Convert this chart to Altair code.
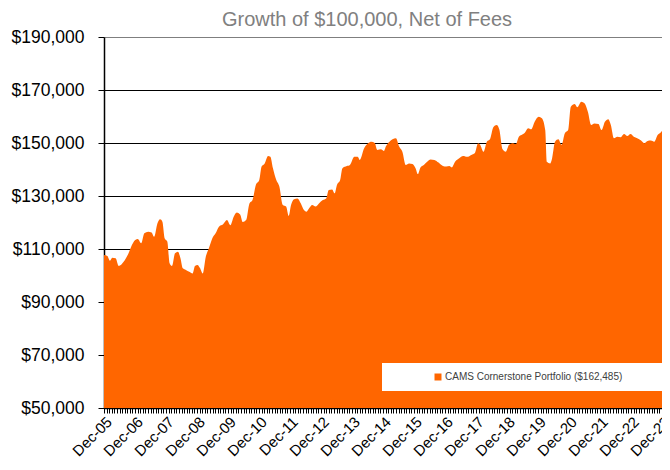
import altair as alt
import pandas as pd

# ---- data ----
# months elapsed since Dec-2005
months = [0.0, 1.3, 2.3, 3.2, 4.5, 5.7, 7.6, 9.5, 10.8, 12.1,
          13.1, 14.4, 15.6, 17.1, 18.4, 19.4, 20.7, 21.7, 22.6, 23.5,
          24.5, 25.4, 26.3, 27.5, 28.6, 29.6, 30.5, 31.7, 33.0, 34.3,
          35.2, 36.2, 37.2, 38.2, 39.4, 40.6, 41.9, 43.2, 44.5, 46.1,
          47.6, 48.9, 50.2, 51.4, 52.7, 53.7, 55.0, 56.3, 57.5, 58.8,
          60.1, 61.0, 62.2, 63.5, 64.4, 65.4, 66.7, 67.9, 69.2, 70.5,
          71.5, 72.4, 73.6, 74.9, 76.2, 77.4, 78.4, 79.4, 80.6, 81.9,
          83.2, 84.7, 86.0, 87.0, 88.3, 89.3, 90.2, 91.4, 92.3, 94.0,
          95.2, 96.9, 98.2, 99.0, 100.7, 102.2, 103.5, 104.8, 105.8, 107.2,
          108.3, 109.2, 110.5, 111.7, 113.0, 114.3, 115.5, 116.8, 118.1, 119.4,
          120.6, 121.5, 122.5, 123.8, 125.1, 126.4, 127.9, 129.5, 131.2, 132.5,
          133.7, 134.6, 135.9, 137.5, 139.0, 140.6, 142.2, 143.5, 144.8, 145.6,
          146.9, 148.2, 149.4, 150.7, 152.0, 153.0, 154.3, 155.5, 156.8, 158.1,
          159.4, 160.6, 161.6, 162.9, 164.2, 165.4, 166.7, 168.3, 169.5, 170.8,
          171.4, 172.7, 173.3, 174.6, 175.9, 177.1, 178.4, 179.7, 180.7, 182.2,
          183.2, 184.8, 186.0, 187.3, 188.6, 189.8, 191.4, 192.6, 193.9, 195.2,
          196.2, 197.4, 198.7, 200.0, 201.3, 202.6, 203.8, 205.1, 206.4, 207.9,
          209.1, 210.4, 211.7, 213.0, 214.3, 215.4, 216.0]

# portfolio value, thousands of dollars
values_thousands = [107.7, 107.4, 105.6, 106.7, 106.5, 103.6, 105.2, 108.4, 111.5, 113.4,
                    113.8, 112.2, 115.9, 116.5, 116.2, 114.6, 119.7, 121.2, 120.3, 114.0,
                    112.8, 104.6, 103.6, 108.4, 109.0, 106.5, 102.7, 102.1, 101.4, 100.8,
                    103.6, 104.0, 102.7, 100.8, 107.1, 110.3, 114.0, 115.9, 118.4, 119.3,
                    120.9, 119.0, 122.2, 123.8, 123.0, 120.2, 120.9, 127.2, 128.5, 134.2,
                    136.0, 141.1, 142.3, 145.1, 144.8, 140.5, 136.0, 133.5, 126.6, 126.0,
                    122.5, 126.6, 128.8, 129.1, 127.2, 124.7, 124.1, 125.4, 126.6, 126.0,
                    127.2, 128.5, 129.1, 132.3, 132.5, 131.0, 134.2, 136.0, 140.5, 141.3,
                    141.7, 144.8, 144.8, 143.6, 148.0, 149.9, 150.5, 150.0, 147.4, 147.6,
                    147.0, 148.9, 150.5, 151.4, 151.8, 148.6, 146.7, 141.7, 142.3, 142.1,
                    140.5, 138.3, 140.8, 141.7, 142.9, 143.8, 143.6, 142.6, 141.3, 141.1,
                    141.3, 140.8, 142.9, 144.2, 145.1, 144.8, 145.5, 146.1, 149.9, 149.3,
                    146.7, 150.5, 151.4, 155.9, 156.8, 155.2, 147.6, 146.7, 149.3, 149.9,
                    149.6, 152.4, 153.0, 153.9, 155.6, 155.2, 158.0, 159.9, 159.3, 154.9,
                    142.9, 142.3, 143.6, 150.5, 151.4, 149.3, 153.7, 154.9, 163.7, 164.7,
                    163.5, 165.6, 165.0, 161.8, 156.8, 157.4, 157.2, 154.9, 158.0, 159.0,
                    156.8, 151.8, 152.4, 152.2, 153.4, 152.6, 153.4, 152.4, 151.8, 150.9,
                    149.9, 150.8, 150.9, 150.5, 153.0, 153.9, 154.5]

series_name = "CAMS Cornerstone Portfolio ($162,485)"
year_labels = ["Dec-05", "Dec-06", "Dec-07", "Dec-08", "Dec-09", "Dec-10",
               "Dec-11", "Dec-12", "Dec-13", "Dec-14", "Dec-15", "Dec-16",
               "Dec-17", "Dec-18", "Dec-19", "Dec-20", "Dec-21", "Dec-22", "Dec-23"]
y_ticks = [50000, 70000, 90000, 110000, 130000, 150000, 170000, 190000]
title_text = "Growth of $100,000, Net of Fees"

df = pd.DataFrame({
    "month": months,
    "value": [v * 1000 for v in values_thousands],
    "series": series_name,
})

n_months = 12 * (len(year_labels) - 1)
label_array = "[" + ",".join("'" + s + "'" for s in year_labels) + "]"
x_label_expr = f"datum.value % 12 === 0 ? {label_array}[datum.value / 12] : ''"

FONT = "Liberation Sans"
ORANGE = "#FF6600"

chart = alt.Chart(df).mark_area(interpolate="monotone", clip=True).encode(
    x=alt.X("month:Q",
            scale=alt.Scale(domain=[0, n_months], nice=False, zero=False),
            axis=alt.Axis(values=list(range(0, n_months + 1)), labelExpr=x_label_expr,
                          labelAngle=-45, labelFontSize=15, labelFont=FONT, labelColor="black",
                          labelOverlap=False, labelFlush=False, labelBound=False, labelPadding=1,
                          grid=False, tickSize=5, tickColor="black", tickWidth=1,
                          domainColor="black", domainWidth=1.5, title=None)),
    y=alt.Y("value:Q",
            scale=alt.Scale(domain=[50000, 190000], nice=False, zero=False),
            axis=alt.Axis(values=y_ticks, format="$,.0f", labelFontSize=17.5, labelFont=FONT,
                          labelColor="black", labelPadding=14, tickSize=6, tickColor="black",
                          domainColor="black", domainWidth=1.5, grid=True,
                          gridColor={"condition": {"test": "datum.value === 190000", "value": "#7f7f7f"},
                                     "value": "black"},
                          gridWidth=1, title=None)),
    color=alt.Color("series:N",
                    scale=alt.Scale(domain=[series_name], range=[ORANGE]),
                    legend=alt.Legend(orient="none", legendX=278, legendY=326,
                                      title="MMM", titleOrient="right", titleFontSize=10,
                                      titleFont=FONT, titleColor="white", titlePadding=8,
                                      fillColor="white", padding=9,
                                      symbolType="square", symbolSize=49, symbolStrokeWidth=0,
                                      symbolOffset=42, labelOffset=2,
                                      labelFontSize=10, labelFont=FONT, labelColor="#404040",
                                      labelLimit=400)),
).properties(
    width=558,
    height=371,
    title=alt.TitleParams(title_text, fontSize=20, font=FONT, color="#808080",
                          fontWeight="normal", anchor="middle", dx=-16, offset=-2),
    autosize=alt.AutoSizeParams(type="none"),
    padding={"left": 96, "top": 29, "right": 0, "bottom": 54},
).configure_view(stroke=None).configure(background="white")

chart.save("out.html", embed_options={"renderer": "svg", "actions": False})
